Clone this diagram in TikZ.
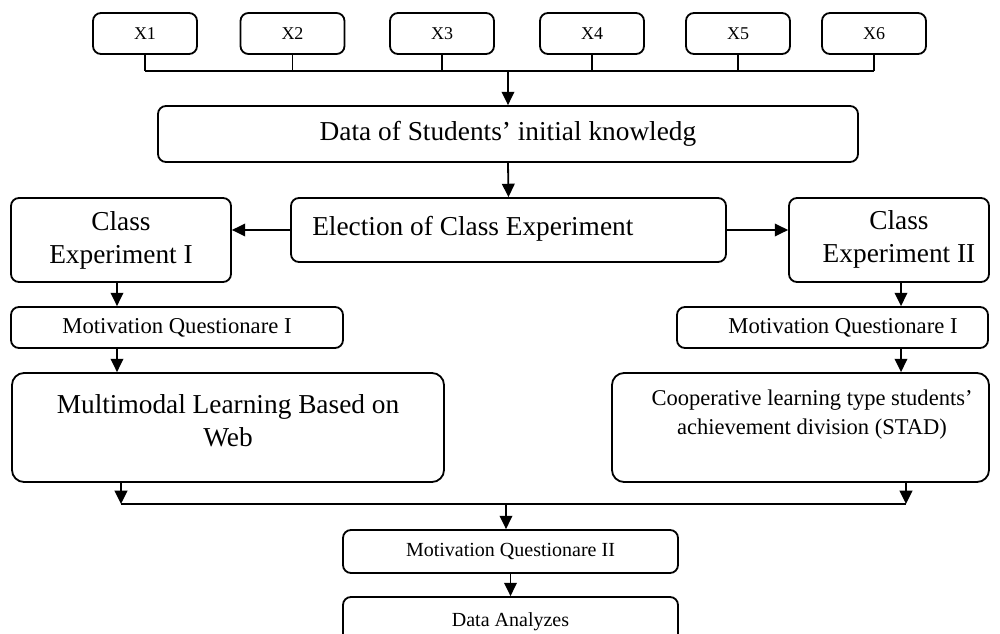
\documentclass[tikz,border=0pt]{standalone}
\usepackage{fontspec}
\setmainfont{Liberation Serif}
\usetikzlibrary{arrows.meta}
\tikzset{
  box/.style={draw, line width=1.35pt, rounded corners=6pt, inner sep=0pt, align=center},
  bigbox/.style={box, rounded corners=9pt},
  txt/.style={inner sep=0pt, align=center},
  fbig/.style={font={\fontsize{20.5}{24.75}\selectfont}},
  fx/.style={font={\fontsize{13.5}{16}\selectfont}},
  fmq/.style={font={\fontsize{17}{20}\selectfont}},
  fcoop/.style={font={\fontsize{16.9}{21.75}\selectfont}},
  fsm/.style={font={\fontsize{15}{18}\selectfont}},
  ln/.style={line width=1.35pt},
  arr/.style={line width=1.35pt, -{Triangle[length=10pt,width=9.5pt]}},
}
\begin{document}
\begin{tikzpicture}[x=0.75pt,y=-0.75pt]
\useasboundingbox (0,0) rectangle (1000,634);
% X boxes
\foreach \n/\cx in {1/145,2/292.5,3/442,4/592,5/738,6/874}{
  \node[box, fx, minimum width=78pt, minimum height=30.75pt] (X\n) at (\cx,33.5) {X\n};
}
\coordinate (top) at (508,71);
\foreach \n in {1,...,6}{ \draw[ln] (X\n.south) -- (X\n.south |- top); }
\draw[ln] (X1.south |- top) -- (X6.south |- top);
% Data
\node[box, fbig, minimum width=525pt, minimum height=42pt] (data) at (508,134) {Data of Students’ initial knowledg};
\draw[arr] (top) -- (data.north);
% Election
\node[box, minimum width=326.25pt, minimum height=48pt] (elec) at (508.5,230) {};
\node[txt, fbig, anchor=west] (electxt) at (312,229) {Election of Class Experiment};
\draw[arr] (data.south) -- (elec.north);
% Class experiments
\node[box, fbig, minimum width=165pt, minimum height=63pt] (ce1) at (121,240) {Class\\Experiment I};
\node[box, minimum width=150pt, minimum height=63pt] (ce2) at (889,240) {};
\node[txt, fbig] (ce2txt) at (899,239) {Class\\Experiment II};
\draw[arr] (elec.west) -- (elec.west -| ce1.east);
\draw[arr] (elec.east) -- (elec.east -| ce2.west);
% Motivation questionnaires I
\node[box, fmq, minimum width=249pt, minimum height=30.75pt] (mq1l) at (177,327.5) {Motivation Questionare I};
\node[box, minimum width=233.25pt, minimum height=30.75pt] (mq1r) at (832.5,327.5) {};
\node[txt, fmq] (mq1rtxt) at (843,328) {Motivation Questionare I};
\coordinate (lx) at (117,0);
\coordinate (rx) at (901,0);
\draw[arr] (ce1.south -| lx) -- (mq1l.north -| lx);
\draw[arr] (ce2.south -| rx) -- (mq1r.north -| rx);
% Learning boxes
\node[bigbox, minimum width=324pt, minimum height=81.75pt] (mm) at (228,427.5) {};
\node[txt, fbig] (mmtxt) at (228,421) {Multimodal Learning Based on\\Web};
\node[bigbox, minimum width=282.75pt, minimum height=81.75pt] (coop) at (800.5,427.5) {};
\node[txt, fcoop] (cooptxt) at (812,415) {Cooperative learning type students’\\achievement division (STAD)};
\draw[arr] (mq1l.south -| lx) -- (mm.north -| lx);
\draw[arr] (mq1r.south -| rx) -- (coop.north -| rx);
% Join
\coordinate (jl) at (121,504);
\coordinate (jr) at (906,504);
\coordinate (jm) at (506,504);
\draw[arr] (mm.south -| jl) -- (jl);
\draw[arr] (coop.south -| jr) -- (jr);
\draw[ln] (jl) -- (jr);
% Bottom
\node[box, fsm, minimum width=251.25pt, minimum height=32.25pt] (mq2) at (510.5,551.5) {Motivation Questionare II};
\draw[arr] (jm) -- (jm |- mq2.north);
\node[box, fsm, minimum width=251.25pt, minimum height=37.5pt] (da) at (510.5,622) {Data Analyzes};
\draw[arr] (mq2.south) -- (da.north);
\end{tikzpicture}
\end{document}
